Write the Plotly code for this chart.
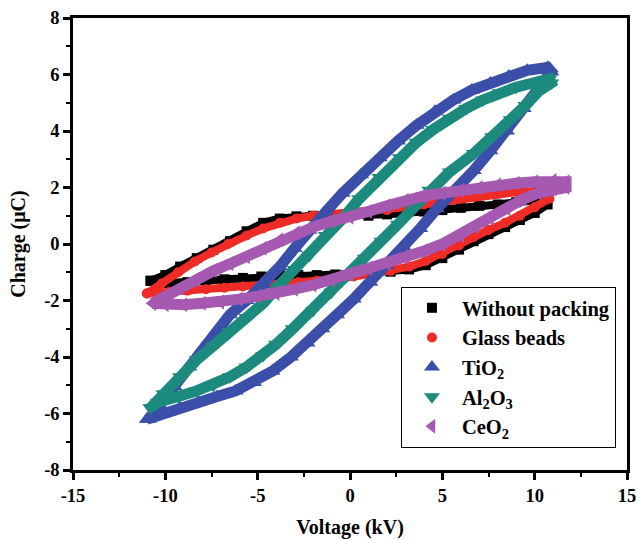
import plotly.graph_objects as go

# ---------------- data ----------------
# Without packing (black)
wp_v = [-10.8, -10.0, -9.2, -8.3, -7.4, -6.5, -5.6, -4.7, -3.8, -2.9, -2.0, -1.0, 0.0, 1.0, 2.0, 3.0,
        4.0, 5.0, 6.0, 7.0, 8.0, 9.0, 10.0, 10.7,
        10.7, 10.0, 9.2, 8.4, 7.5, 6.7, 5.9, 5.0, 4.1, 3.2, 2.2, 1.2, 0.2, -0.8, -1.8, -2.8,
        -3.8, -4.8, -5.8, -6.8, -7.8, -8.8, -9.8, -10.8]
wp_q = [-1.3, -1.1, -0.8, -0.5, -0.2, 0.1, 0.45, 0.75, 0.9, 0.98, 1.0, 1.0, 1.0, 1.0, 1.05, 1.1,
        1.15, 1.2, 1.28, 1.35, 1.4, 1.48, 1.55, 1.6,
        1.4, 1.1, 0.85, 0.6, 0.35, 0.1, -0.2, -0.5, -0.75, -0.9, -0.98, -1.0, -1.05, -1.08, -1.1, -1.1,
        -1.1, -1.15, -1.2, -1.25, -1.3, -1.35, -1.38, -1.3]

# Glass beads (red)
gb_v = [-11.0, -10.2, -9.3, -8.4, -7.5, -6.6, -5.6, -4.7, -3.8, -2.9, -2.0, -1.0, 0.0, 1.0, 2.0, 3.0,
        4.0, 5.0, 6.0, 7.0, 8.0, 9.0, 10.0, 10.8,
        10.8, 10.0, 9.2, 8.4, 7.5, 6.7, 5.9, 5.0, 4.1, 3.2, 2.2, 1.2, 0.2, -0.8, -1.8, -2.8,
        -3.8, -4.8, -5.8, -6.8, -7.8, -8.8, -9.8, -11.0]
gb_q = [-1.75, -1.4, -1.0, -0.62, -0.3, 0.0, 0.3, 0.55, 0.75, 0.9, 1.0, 1.05, 1.1, 1.15, 1.2, 1.3,
        1.4, 1.5, 1.6, 1.7, 1.78, 1.84, 1.86, 1.8,
        1.6, 1.3, 1.0, 0.75, 0.5, 0.25, -0.05, -0.35, -0.6, -0.8, -0.95, -1.05, -1.15, -1.25, -1.3, -1.35,
        -1.4, -1.45, -1.5, -1.55, -1.6, -1.65, -1.7, -1.75]

# TiO2 (blue)
ti_v = [-10.9, -10.3, -9.5, -8.7, -8.0, -7.2, -6.5, -5.6, -4.7, -3.8, -3.0, -2.2, -1.3, -0.4, 0.6, 1.6,
        2.6, 3.6, 4.6, 5.6, 6.6, 7.6, 8.6, 9.6, 10.7,
        10.9, 10.2, 9.4, 8.5, 7.6, 6.7, 5.7, 4.7, 3.8, 2.9, 2.0, 1.1, 0.2, -0.7, -1.5, -2.3,
        -3.2, -4.2, -5.2, -6.2, -7.2, -8.2, -9.2, -10.2, -11.0]
ti_q = [-6.2, -5.7, -5.05, -4.35, -3.7, -3.05, -2.5, -2.0, -1.45, -0.8, -0.15, 0.5, 1.15, 1.8, 2.45, 3.05,
        3.65, 4.2, 4.7, 5.1, 5.45, 5.7, 5.95, 6.15, 6.25,
        6.1, 5.5, 4.8, 4.0, 3.3, 2.6, 1.95, 1.25, 0.55, -0.1, -0.75, -1.35, -1.95, -2.5, -3.0, -3.5,
        -4.0, -4.5, -4.9, -5.2, -5.4, -5.6, -5.8, -6.0, -6.2]

# Al2O3 (teal)
al_v = [-10.8, -10.1, -9.2, -8.3, -7.4, -6.5, -5.6, -4.7, -3.9, -3.0, -2.2, -1.3, -0.4, 0.5, 1.6, 2.7,
        3.6, 4.5, 5.4, 6.3, 7.2, 8.1, 9.0, 9.9, 10.8,
        10.9, 10.2, 9.5, 8.7, 7.7, 6.7, 5.4, 4.3, 3.4, 2.6, 1.7, 0.8, -0.1, -1.0, -2.0, -3.1,
        -4.0, -4.7, -5.6, -6.5, -7.4, -8.3, -9.3, -10.4, -10.8]
al_q = [-5.8, -5.3, -4.7, -4.1, -3.6, -3.1, -2.6, -2.1, -1.5, -0.9, -0.4, 0.3, 0.9, 1.6, 2.35, 3.05,
        3.6, 4.05, 4.45, 4.8, 5.1, 5.35, 5.55, 5.7, 5.85,
        5.7, 5.4, 4.9, 4.4, 3.8, 3.2, 2.55, 1.9, 1.25, 0.7, 0.1, -0.5, -1.1, -1.7, -2.35, -3.0,
        -3.55, -3.95, -4.35, -4.7, -5.0, -5.2, -5.4, -5.6, -5.8]

# CeO2 (purple)
ce_v = [-10.7, -10.0, -9.2, -8.3, -7.4, -6.5, -5.6, -4.7, -3.8, -2.9, -2.0, -1.0, 0.0, 1.0, 2.0, 3.0,
        4.0, 5.0, 6.0, 7.0, 8.0, 9.0, 10.0, 11.0, 11.7,
        11.7, 11.0, 10.2, 9.4, 8.5, 7.6, 6.8, 6.0, 5.0, 4.0, 3.0, 2.0, 1.0, 0.0, -1.0, -2.0,
        -3.0, -4.0, -5.0, -6.0, -7.0, -8.0, -9.0, -10.0, -10.7]
ce_q = [-2.1, -1.85, -1.55, -1.25, -0.95, -0.7, -0.45, -0.15, 0.15, 0.4, 0.6, 0.8, 0.95, 1.15, 1.35, 1.55,
        1.7, 1.8, 1.9, 2.0, 2.1, 2.15, 2.2, 2.25, 2.2,
        2.0, 1.95, 1.8, 1.6, 1.25, 0.92, 0.6, 0.28, 0.0, -0.25, -0.48, -0.68, -0.86, -1.05, -1.28, -1.45,
        -1.6, -1.75, -1.85, -1.95, -2.05, -2.1, -2.15, -2.15, -2.1]

series_names = ["<b>Without packing</b>", "<b>Glass beads</b>", "<b>TiO<sub>2</sub></b>",
                "<b>Al<sub>2</sub>O<sub>3</sub></b>", "<b>CeO<sub>2</sub></b>"]

x_tickvals = [-15, -10, -5, 0, 5, 10, 15]
x_ticktext = ["-15", "-10", "-5", "0", "5", "10", "15"]
y_tickvals = [-8, -6, -4, -2, 0, 2, 4, 6, 8]
y_ticktext = ["-8", "-6", "-4", "-2", "0", "2", "4", "6", "8"]

# ---------------- styling ----------------
colors = ["#000000", "#ee2b25", "#3b4ea9", "#1c8a7c", "#a659b1"]
symbols = ["square", "circle", "triangle-up", "triangle-down", "triangle-left"]
msizes = [10, 10, 14, 14, 13]
lwidths = [8, 8, 11, 11, 11]

data_v = [wp_v, gb_v, ti_v, al_v, ce_v]
data_q = [wp_q, gb_q, ti_q, al_q, ce_q]

FONT = "Liberation Serif"

fig = go.Figure()
for v, q, name, c, s, ms, lw in zip(data_v, data_q, series_names, colors, symbols, msizes, lwidths):
    fig.add_trace(go.Scatter(x=v, y=q, mode="lines", line=dict(color=c, width=lw),
                             showlegend=False, hoverinfo="skip"))
    fig.add_trace(go.Scatter(x=v, y=q, mode="markers", name=name,
                             marker=dict(symbol=s, size=ms, color=c, line=dict(width=0))))

axis_common = dict(
    showline=True, linecolor="black", linewidth=2.5, mirror=True,
    ticks="outside", ticklen=7, tickwidth=2.5, tickcolor="black",
    showgrid=False, zeroline=False, automargin=False, ticklabeloverflow="allow",
    tickfont=dict(family=FONT, size=18.5, color="black", weight="bold"),
)

fig.update_xaxes(range=[-15, 15], tickvals=x_tickvals, ticktext=x_ticktext,
                 minor=dict(ticks="outside", ticklen=4, tickwidth=2, tickcolor="black",
                            dtick=2.5, tick0=-15, showgrid=False),
                 title=dict(text="<b>Voltage (kV)</b>", font=dict(family=FONT, size=20, color="black"),
                            standoff=16),
                 **axis_common)
fig.update_yaxes(range=[-8, 8], tickvals=y_tickvals, ticktext=y_ticktext,
                 minor=dict(ticks="outside", ticklen=4, tickwidth=2, tickcolor="black",
                            dtick=1, tick0=-8, showgrid=False),
                 title=dict(text="<b>Charge (μC)</b>", font=dict(family=FONT, size=20, color="black"),
                            standoff=14),
                 **axis_common)

fig.update_layout(
    width=638, height=540,
    margin=dict(l=73, r=11, t=18, b=70),
    plot_bgcolor="white", paper_bgcolor="white",
    legend=dict(x=0.592, y=0.405, xanchor="left", yanchor="top",
                bordercolor="black", borderwidth=1, bgcolor="white",
                font=dict(family=FONT, size=20.5, color="black"),
                itemwidth=50, tracegroupgap=0),
)

# remove the default page margin so the figure fills the window exactly
fig.write_html("out.html", config={"displayModeBar": False},
               post_script="document.body.style.margin='0';document.body.style.overflow='hidden';")
